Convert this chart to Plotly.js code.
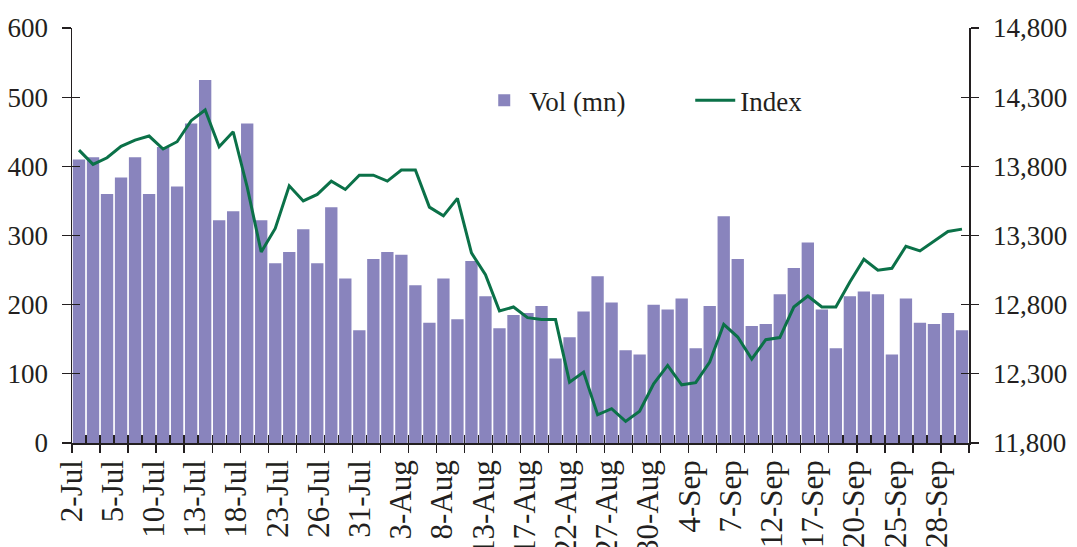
<!DOCTYPE html>
<html>
<head>
<meta charset="utf-8">
<script src="https://cdn.plot.ly/plotly-3.0.1.min.js"></script>
<style>
  html, body { margin: 0; padding: 0; background: #ffffff; }
  #chart { width: 1077px; height: 547px; }
</style>
</head>
<body>
<div id="chart"></div>
<script>
// Trading days (categories)
const dates = [
  '2-Jul','3-Jul','4-Jul','5-Jul','6-Jul','9-Jul','10-Jul','11-Jul','12-Jul','13-Jul',
  '16-Jul','17-Jul','18-Jul','19-Jul','20-Jul','23-Jul','24-Jul','25-Jul','26-Jul','27-Jul',
  '30-Jul','31-Jul','1-Aug','2-Aug','3-Aug','6-Aug','7-Aug','8-Aug','9-Aug','10-Aug',
  '13-Aug','14-Aug','16-Aug','17-Aug','20-Aug','21-Aug','22-Aug','23-Aug','24-Aug','27-Aug',
  '28-Aug','29-Aug','30-Aug','31-Aug','3-Sep','4-Sep','5-Sep','6-Sep','7-Sep','10-Sep',
  '11-Sep','12-Sep','13-Sep','14-Sep','17-Sep','18-Sep','19-Sep','20-Sep','21-Sep','24-Sep',
  '25-Sep','26-Sep','27-Sep','28-Sep'
];

// Volume (mn) - left axis
const vol = [
  410, 413, 360, 384, 413, 360, 428, 371, 462, 525,
  322, 335, 462, 322, 260, 276, 309, 260, 341, 238,
  163, 266, 276, 272, 228, 174, 238, 179, 263, 212,
  166, 185, 188, 198, 122, 153, 190, 241, 203, 134,
  128, 200, 193, 209, 137, 198, 328, 266, 169, 172,
  215, 253, 290, 193, 137, 212, 219, 215, 128, 209,
  174, 172, 188, 163
];

// Index - right axis
const indexVals = [
  13917, 13814, 13862, 13944, 13990, 14019, 13925, 13978, 14130, 14207,
  13941, 14050, 13650, 13181, 13351, 13659, 13550, 13597, 13693, 13633,
  13736, 13736, 13693, 13773, 13773, 13505, 13442, 13568, 13174, 13017,
  12754, 12783, 12706, 12692, 12692, 12240, 12313, 12004, 12048, 11956,
  12030, 12228, 12361, 12221, 12236, 12385, 12658, 12566, 12407, 12547,
  12562, 12783, 12863, 12783, 12783, 12964, 13128, 13049, 13063, 13222,
  13189, 13259, 13329, 13346
];

// Dates shown as tick labels
const labelDates = [
  '2-Jul','5-Jul','10-Jul','13-Jul','18-Jul','23-Jul','26-Jul','31-Jul',
  '3-Aug','8-Aug','13-Aug','17-Aug','22-Aug','27-Aug','30-Aug',
  '4-Sep','7-Sep','12-Sep','17-Sep','20-Sep','25-Sep','28-Sep'
];

const seriesNames = ['Vol (mn)', 'Index'];

const FONT = 'Liberation Serif, Times New Roman, serif';
const TXT = '#231f20';
const AX = '#231f20';

const labelIdx = labelDates.map(d => dates.indexOf(d));
const labelPos = labelIdx.map(i => Math.max(-0.49, i * 0.98 - 0.54));
const n = dates.length;

// empty helper traces so that the overlay axes (cross ticks, labels) are drawn
function helper(xa, ya) {
  return { type: 'scatter', mode: 'lines', x: [], y: [], xaxis: xa, yaxis: ya,
           showlegend: false, hoverinfo: 'skip' };
}

const traces = [
  {
    type: 'bar',
    name: seriesNames[0],
    x: dates,
    y: vol,
    marker: { color: '#8984bd', line: { width: 0 } },
    xaxis: 'x', yaxis: 'y',
    hoverinfo: 'x+y'
  },
  {
    type: 'scatter',
    mode: 'lines',
    name: seriesNames[1],
    x: dates,
    y: indexVals,
    line: { color: '#0b7148', width: 3 },
    xaxis: 'x', yaxis: 'y2',
    hoverinfo: 'x+y'
  },
  helper('x2', 'y'),
  helper('x3', 'y'),
  helper('x', 'y3'),
  helper('x', 'y4')
];

const layout = {
  width: 1077,
  height: 547,
  margin: { l: 72, r: 108, t: 28, b: 104, pad: 0 },
  paper_bgcolor: '#ffffff',
  plot_bgcolor: '#ffffff',
  font: { family: FONT, color: TXT, size: 27 },
  bargap: 0.12,
  showlegend: true,
  legend: {
    orientation: 'h',
    x: 0.454, xanchor: 'left',
    y: 0.825, yanchor: 'middle',
    font: { family: FONT, size: 27, color: TXT },
    bgcolor: 'rgba(0,0,0,0)',
    entrywidth: 156, entrywidthmode: 'pixels',
    itemwidth: 40
  },
  xaxis: {
    type: 'category',
    categoryorder: 'array',
    categoryarray: dates,
    range: [-0.5, n - 0.5],
    showline: true, linecolor: AX, linewidth: 1.5,
    ticks: 'outside', ticklen: 8, tickwidth: 1.3, tickcolor: AX,
    tickson: 'boundaries',
    showticklabels: false,
    showgrid: false, zeroline: false, fixedrange: true
  },
  xaxis2: {
    overlaying: 'x', anchor: 'y', side: 'bottom',
    type: 'linear', range: [-0.5, n - 0.5],
    tickmode: 'linear', tick0: -0.5, dtick: 1,
    ticks: 'inside', ticklen: 8, tickwidth: 1.3, tickcolor: AX,
    showticklabels: false, showline: false,
    showgrid: false, zeroline: false, fixedrange: true
  },
  xaxis3: {
    overlaying: 'x', anchor: 'y', side: 'bottom',
    type: 'linear', range: [-0.5, n - 0.5],
    tickmode: 'array', tickvals: labelPos, ticktext: labelDates,
    ticks: '', tickangle: -90,
    ticklabelstandoff: 10,
    tickfont: { family: FONT, size: 31, color: TXT },
    showline: false, showgrid: false, zeroline: false, fixedrange: true
  },
  yaxis: {
    range: [0, 600], tickmode: 'linear', tick0: 0, dtick: 100,
    showline: true, linecolor: AX, linewidth: 1.5,
    ticks: 'outside', ticklen: 9, tickwidth: 1.3, tickcolor: AX,
    ticklabelstandoff: 8,
    tickfont: { family: FONT, size: 27, color: TXT },
    showgrid: false, zeroline: false, fixedrange: true
  },
  yaxis3: {
    overlaying: 'y', anchor: 'x', side: 'left',
    range: [0, 600], tickmode: 'linear', tick0: 0, dtick: 100,
    ticks: 'inside', ticklen: 8, tickwidth: 1.3, tickcolor: AX,
    showticklabels: false, showline: false,
    showgrid: false, zeroline: false, fixedrange: true
  },
  yaxis2: {
    overlaying: 'y', anchor: 'x', side: 'right',
    range: [11800, 14800], tickmode: 'linear', tick0: 11800, dtick: 500,
    tickformat: ',d',
    showline: true, linecolor: AX, linewidth: 1.5,
    ticks: 'outside', ticklen: 8, tickwidth: 1.3, tickcolor: AX,
    ticklabelstandoff: 9,
    tickfont: { family: FONT, size: 27, color: TXT },
    showgrid: false, zeroline: false, fixedrange: true
  },
  yaxis4: {
    overlaying: 'y', anchor: 'x', side: 'right',
    range: [11800, 14800], tickmode: 'linear', tick0: 11800, dtick: 500,
    ticks: 'inside', ticklen: 8, tickwidth: 1.3, tickcolor: AX,
    showticklabels: false, showline: false,
    showgrid: false, zeroline: false, fixedrange: true
  }
};

Plotly.newPlot('chart', traces, layout, { displayModeBar: false, staticPlot: true });
</script>
</body>
</html>
